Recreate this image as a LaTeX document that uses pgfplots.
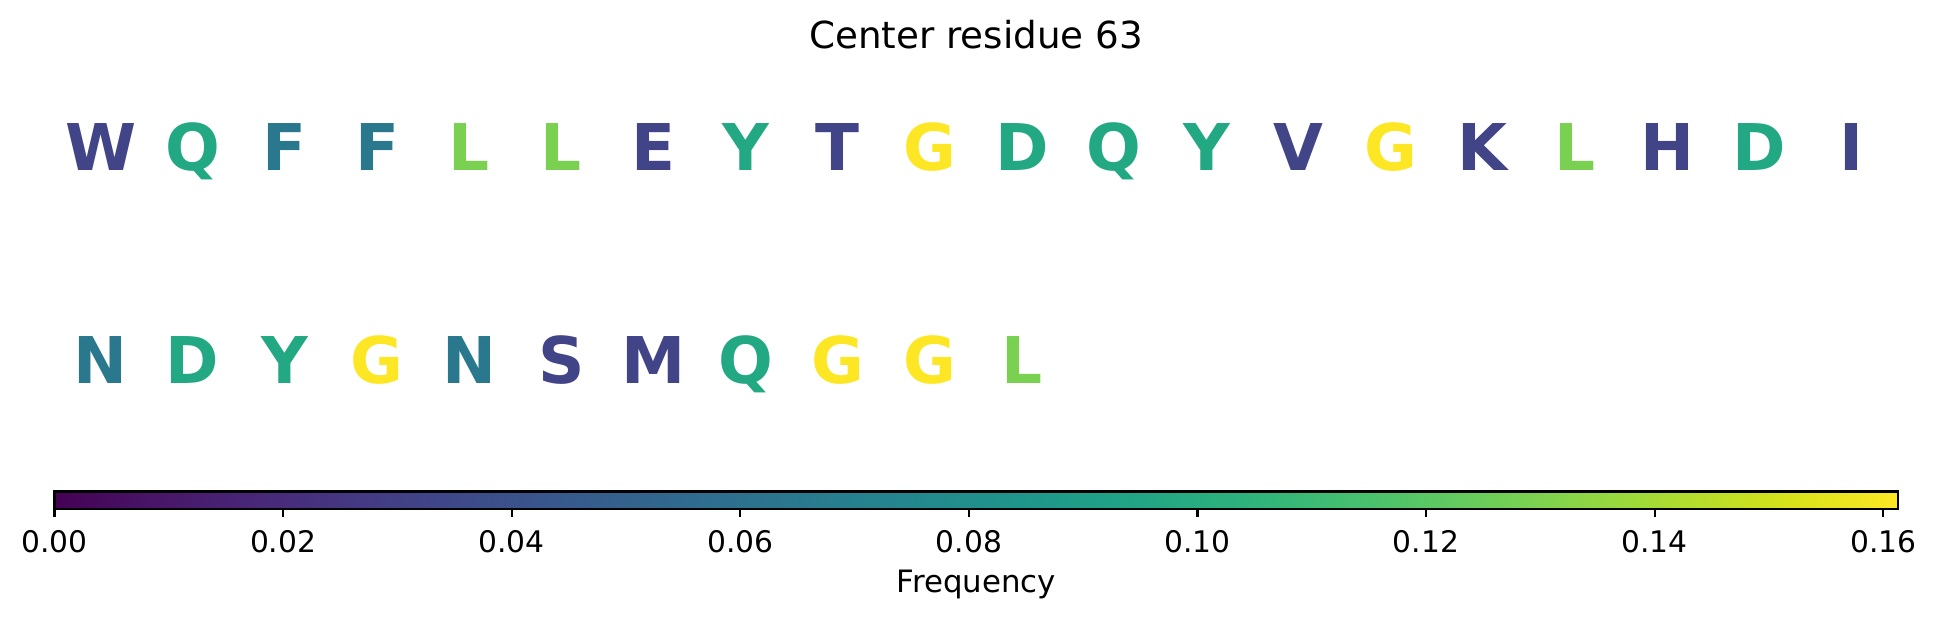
\documentclass[border=0pt]{standalone}
\usepackage{pgfplots}
\pgfplotsset{compat=1.18}
\usepackage{pgfplotstable}
\usepackage{fontspec}
\setmainfont{DejaVu Sans}
\usepgfplotslibrary{colormaps}

% letter positions (column centre, row) and frequency (count/31)
\pgfplotstableread{
x y letter freq
0.5 1 W 0.032258
1.5 1 Q 0.096774
2.5 1 F 0.064516
3.5 1 F 0.064516
4.5 1 L 0.129032
5.5 1 L 0.129032
6.5 1 E 0.032258
7.5 1 Y 0.096774
8.5 1 T 0.032258
9.5 1 G 0.161290
10.5 1 D 0.096774
11.5 1 Q 0.096774
12.5 1 Y 0.096774
13.5 1 V 0.032258
14.5 1 G 0.161290
15.5 1 K 0.032258
16.5 1 L 0.129032
17.5 1 H 0.032258
18.5 1 D 0.096774
19.5 1 I 0.032258
0.5 0 N 0.064516
1.5 0 D 0.096774
2.5 0 Y 0.096774
3.5 0 G 0.161290
4.5 0 N 0.064516
5.5 0 S 0.032258
6.5 0 M 0.032258
7.5 0 Q 0.096774
8.5 0 G 0.161290
9.5 0 G 0.161290
10.5 0 L 0.129032
}\letters

\begin{document}
\begin{tikzpicture}
\begin{axis}[
  scale only axis, width=663.48pt, height=140.4pt,
  xmin=0, xmax=20, ymin=-0.3102, ymax=1.5147,
  hide axis,
  colormap/viridis,
  point meta min=0, point meta max=0.16129,
  title={Center residue 63},
  title style={font=\fontsize{13.4}{16}\selectfont, at={(axis description cs:0.5,1)}, anchor=base, yshift=-1.95pt, inner sep=0pt},
  colorbar horizontal,
  colorbar style={
    at={(parent axis.south west)}, anchor=north west, yshift=-6.41pt,
    scale only axis, width=663.66pt, height=6.34pt,
    xtick={0,0.02,0.04,0.06,0.08,0.10,0.12,0.14,0.16},
    scaled x ticks=false,
    xtick pos=left, xtick align=outside,
    major tick length=2.77pt,
    ytick=\empty,
    axis line style={line width=0.8pt, black},
    every tick/.style={line width=0.8pt, black},
    xticklabel style={font=\fontsize{10.7}{13}\selectfont, yshift=-1.5pt,
      /pgf/number format/.cd, fixed, fixed zerofill, precision=2, assume math mode=true},
    xlabel={Frequency},
    xlabel style={font=\fontsize{11.1}{13}\selectfont, at={(axis description cs:0.5,0)}, anchor=base, yshift=-30.13pt, inner sep=0pt},
  },
]
\addplot[draw=none, mark=none,
  point meta=explicit symbolic,
  visualization depends on={\thisrow{freq}/0.16129*1000 \as \cv},
  nodes near coords,
  every node near coord/.append style={font=\fontsize{23.2}{28}\selectfont\bfseries, color of colormap={\cv of viridis}, anchor=base, inner sep=0pt},
] table[x=x, y=y, meta=letter] {\letters};
\end{axis}
\pgfresetboundingbox
\path[use as bounding box] (-19.62pt,-60.84pt) rectangle (678.06pt,162pt);
\end{tikzpicture}
\end{document}
